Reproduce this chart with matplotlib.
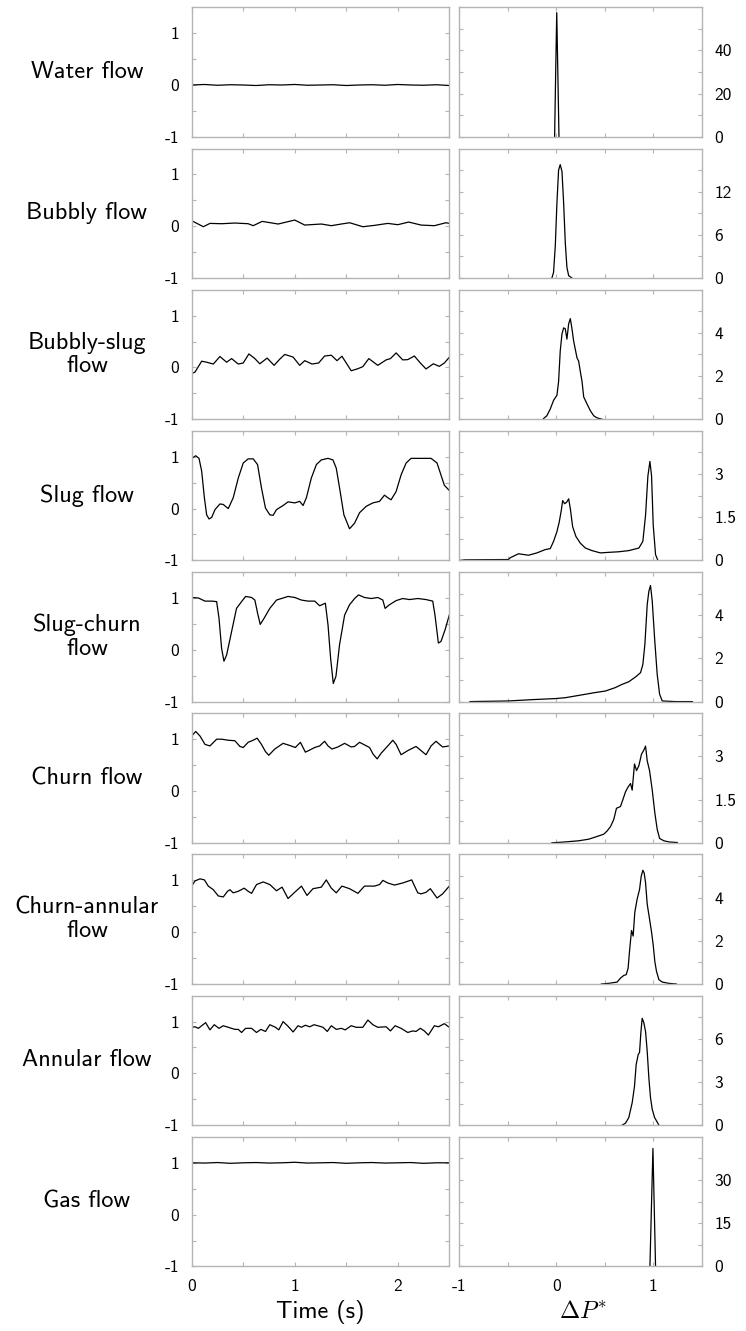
import numpy as np
import matplotlib
matplotlib.use('Agg')
import matplotlib.pyplot as plt

plt.rcParams['font.family'] = ['cmss10', 'DejaVu Sans']
plt.rcParams['mathtext.fontset'] = 'cm'
plt.rcParams['axes.unicode_minus'] = False
plt.rcParams['axes.formatter.use_mathtext'] = True

names = ['Water flow', 'Bubbly flow', 'Bubbly-slug\nflow', 'Slug flow', 'Slug-churn\nflow',
         'Churn flow', 'Churn-annular\nflow', 'Annular flow', 'Gas flow']

# time traces (s, normalised dP)
t_water = [0, 0.125, 0.25, 0.375, 0.5, 0.625, 0.75, 0.875, 1.0, 1.125, 1.25, 1.375, 1.5, 1.625,
           1.75, 1.875, 2.0, 2.125, 2.25, 2.375, 2.5]
y_water = [0.0, 0.01, -0.005, 0.005, 0.0, -0.01, 0.005, 0.0, 0.01, -0.005, 0.0, 0.005, -0.01, 0.0,
           0.005, -0.005, 0.01, 0.0, -0.005, 0.005, -0.01]

t_bubbly = [0, 0.113, 0.177, 0.290, 0.419, 0.548, 0.597, 0.684, 0.839, 1.0, 1.097, 1.258, 1.355,
            1.452, 1.532, 1.661, 1.774, 1.903, 2.0, 2.106, 2.226, 2.355, 2.468, 2.5]
y_bubbly = [0.106, -0.01, 0.054, 0.048, 0.061, 0.048, 0.01, 0.093, 0.042, 0.119, 0.022, 0.042, 0.01,
            0.042, 0.067, -0.01, 0.016, 0.054, 0.029, 0.08, 0.022, 0.01, 0.067, 0.054]

t_bslug = [0, 0.032, 0.097, 0.145, 0.210, 0.274, 0.339, 0.387, 0.452, 0.5, 0.555, 0.613, 0.661, 0.732,
           0.8, 0.855, 0.903, 0.984, 1.048, 1.097, 1.168, 1.232, 1.290, 1.355, 1.410, 1.458, 1.5, 1.548,
           1.613, 1.661, 1.719, 1.806, 1.887, 1.929, 1.984, 2.048, 2.097, 2.161, 2.219, 2.274, 2.345,
           2.403, 2.452, 2.5]
y_bslug = [-0.12, -0.09, 0.12, 0.10, 0.065, 0.21, 0.10, 0.17, 0.065, 0.085, 0.26, 0.17, 0.07, 0.18,
           0.04, 0.16, 0.25, 0.20, 0.04, 0.13, 0.065, 0.085, 0.22, 0.235, 0.13, 0.215, 0.085, -0.065,
           -0.025, 0.015, 0.17, 0.04, 0.145, 0.17, 0.28, 0.145, 0.15, 0.22, 0.085, -0.03, 0.07, 0.02,
           0.085, 0.195]

t_slug = [0, 0.039, 0.071, 0.097, 0.123, 0.145, 0.168, 0.194, 0.226, 0.274, 0.306, 0.355, 0.403, 0.452,
          0.5, 0.548, 0.597, 0.639, 0.677, 0.716, 0.758, 0.790, 0.823, 0.887, 0.935, 1.0, 1.048, 1.081,
          1.113, 1.161, 1.210, 1.258, 1.323, 1.371, 1.403, 1.435, 1.477, 1.532, 1.581, 1.629, 1.694,
          1.758, 1.823, 1.871, 1.903, 1.935, 1.984, 2.032, 2.081, 2.129, 2.194, 2.258, 2.323, 2.381,
          2.419, 2.452, 2.5]
y_slug = [0.97, 1.02, 0.97, 0.72, 0.21, -0.12, -0.20, -0.17, -0.02, 0.09, 0.08, 0.0, 0.21, 0.59, 0.88,
          0.96, 0.96, 0.85, 0.40, 0.01, -0.12, -0.13, -0.02, 0.06, 0.13, 0.11, 0.14, 0.06, 0.21, 0.59,
          0.85, 0.94, 0.97, 0.94, 0.78, 0.40, -0.12, -0.39, -0.28, -0.08, 0.045, 0.11, 0.14, 0.26, 0.21,
          0.17, 0.33, 0.65, 0.88, 0.97, 0.97, 0.97, 0.97, 0.88, 0.65, 0.45, 0.35]

t_schurn = [0, 0.065, 0.129, 0.194, 0.242, 0.265, 0.290, 0.313, 0.339, 0.387, 0.435, 0.484, 0.523,
            0.581, 0.613, 0.639, 0.665, 0.703, 0.758, 0.823, 0.871, 0.935, 1.0, 1.065, 1.129, 1.194,
            1.242, 1.297, 1.323, 1.348, 1.374, 1.400, 1.435, 1.484, 1.532, 1.581, 1.619, 1.677, 1.742,
            1.806, 1.855, 1.877, 1.919, 1.984, 2.048, 2.113, 2.194, 2.274, 2.339, 2.361, 2.394, 2.419,
            2.458, 2.5]
y_schurn = [1.01, 1.0, 0.94, 0.94, 0.93, 0.61, 0.03, -0.22, -0.10, 0.35, 0.80, 0.93, 1.03, 1.01, 0.96,
            0.71, 0.49, 0.61, 0.80, 0.96, 0.99, 1.03, 1.01, 0.96, 0.94, 0.94, 0.85, 0.90, 0.48, -0.16,
            -0.65, -0.51, 0.10, 0.67, 0.87, 0.99, 1.06, 1.01, 0.99, 1.01, 0.96, 0.80, 0.87, 0.95, 0.99,
            0.97, 0.99, 0.97, 0.94, 0.67, 0.13, 0.16, 0.38, 0.67]

t_churn = [0, 0.039, 0.081, 0.129, 0.177, 0.242, 0.290, 0.355, 0.419, 0.468, 0.5, 0.548, 0.597, 0.635,
           0.677, 0.716, 0.748, 0.806, 0.887, 0.935, 1.006, 1.055, 1.103, 1.145, 1.194, 1.242, 1.290,
           1.323, 1.361, 1.419, 1.484, 1.548, 1.581, 1.629, 1.677, 1.726, 1.761, 1.800, 1.839, 1.903,
           1.952, 1.984, 2.032, 2.097, 2.177, 2.226, 2.274, 2.323, 2.371, 2.435, 2.5]
y_churn = [1.06, 1.15, 1.06, 0.90, 0.87, 1.0, 1.0, 0.98, 0.97, 0.86, 0.84, 0.94, 0.98, 1.02, 0.90,
           0.76, 0.69, 0.81, 0.92, 0.89, 0.84, 0.94, 0.75, 0.79, 0.84, 0.87, 0.96, 0.87, 0.81, 0.85,
           0.92, 0.85, 0.86, 0.94, 0.89, 0.84, 0.71, 0.62, 0.73, 0.87, 0.98, 0.90, 0.70, 0.78, 0.86,
           0.78, 0.70, 0.87, 0.96, 0.85, 0.87]

t_cann = [0, 0.032, 0.081, 0.123, 0.161, 0.210, 0.258, 0.306, 0.348, 0.371, 0.403, 0.452, 0.510, 0.548,
          0.581, 0.629, 0.694, 0.758, 0.823, 0.877, 0.935, 0.994, 1.065, 1.119, 1.177, 1.258, 1.306,
          1.355, 1.403, 1.458, 1.532, 1.613, 1.677, 1.774, 1.823, 1.855, 1.903, 1.968, 2.048, 2.135,
          2.194, 2.226, 2.274, 2.316, 2.381, 2.435, 2.5]
y_cann = [0.89, 0.99, 1.03, 1.01, 0.89, 0.82, 0.70, 0.68, 0.79, 0.82, 0.76, 0.79, 0.85, 0.79, 0.75,
          0.92, 0.97, 0.92, 0.80, 0.87, 0.65, 0.76, 0.89, 0.71, 0.84, 0.87, 1.01, 0.85, 0.76, 0.89, 0.84,
          0.75, 0.89, 0.89, 0.92, 1.0, 0.95, 0.91, 0.95, 1.01, 0.76, 0.74, 0.77, 0.84, 0.66, 0.74, 0.89]

t_annular = [0, 0.032, 0.065, 0.097, 0.135, 0.177, 0.219, 0.265, 0.306, 0.355, 0.419, 0.452, 0.484,
             0.523, 0.581, 0.629, 0.671, 0.716, 0.758, 0.813, 0.845, 0.887, 0.935, 0.984, 1.032, 1.065,
             1.103, 1.145, 1.187, 1.242, 1.274, 1.316, 1.355, 1.403, 1.452, 1.490, 1.548, 1.597, 1.661,
             1.710, 1.758, 1.806, 1.887, 1.929, 1.974, 2.032, 2.097, 2.145, 2.177, 2.219, 2.258, 2.297,
             2.355, 2.394, 2.452, 2.5]
y_annular = [0.89, 0.90, 0.87, 0.92, 0.98, 0.84, 0.94, 0.87, 0.92, 0.89, 0.85, 0.85, 0.79, 0.87, 0.87,
             0.79, 0.85, 0.81, 0.94, 0.89, 0.84, 1.0, 0.91, 0.80, 0.92, 0.89, 0.93, 0.90, 0.94, 0.91,
             0.89, 0.81, 0.92, 0.85, 0.87, 0.84, 0.92, 0.89, 0.89, 1.03, 0.94, 0.89, 0.90, 0.82, 0.92,
             0.87, 0.79, 0.82, 0.81, 0.87, 0.82, 0.74, 0.92, 0.90, 0.96, 0.89]

t_gas = [0, 0.125, 0.25, 0.375, 0.5, 0.625, 0.75, 0.875, 1.0, 1.125, 1.25, 1.375, 1.5, 1.625,
         1.75, 1.875, 2.0, 2.125, 2.25, 2.375, 2.5]
y_gas = [1.0, 0.995, 1.005, 0.99, 1.0, 1.005, 0.995, 1.0, 1.01, 0.995, 1.0, 1.005, 0.99, 1.0,
         1.005, 0.995, 1.0, 1.005, 0.99, 1.0, 1.0]

# probability density of dP*
p_water = [-0.017, -0.006, 0.005, 0.016, 0.028]
d_water = [0, 30, 57.5, 30, 0]

p_bubbly = [-0.045, -0.028, -0.010, 0.007, 0.024, 0.041, 0.059, 0.076, 0.093, 0.110, 0.128, 0.162]
d_bubbly = [0, 0.78, 4.47, 10.46, 15.0, 15.76, 14.8, 10.46, 4.93, 1.47, 0.32, 0]

p_bslug = [-0.131, -0.097, -0.062, -0.028, 0.007, 0.024, 0.041, 0.059, 0.076, 0.093, 0.110, 0.128,
           0.145, 0.162, 0.179, 0.214, 0.231, 0.248, 0.266, 0.283, 0.317, 0.352, 0.386, 0.421, 0.472]
d_bslug = [0.03, 0.16, 0.47, 0.87, 1.11, 1.74, 3.16, 3.95, 4.23, 4.19, 3.71, 4.42, 4.66, 4.19, 3.63,
           2.84, 2.69, 2.21, 1.74, 1.03, 0.71, 0.39, 0.16, 0.06, 0]

p_slug = [-0.993, -0.941, -0.493, -0.476, -0.390, -0.286, -0.2, -0.114, -0.062, -0.028, 0.007, 0.031,
          0.052, 0.066, 0.086, 0.107, 0.128, 0.145, 0.169, 0.203, 0.248, 0.3, 0.369, 0.455, 0.541, 0.645,
          0.748, 0.852, 0.893, 0.921, 0.945, 0.966, 0.983, 1.0, 1.024, 1.048]
d_slug = [0, 0.02, 0.03, 0.09, 0.23, 0.18, 0.26, 0.375, 0.41, 0.66, 1.0, 1.34, 1.74, 2.08, 1.97, 2.02,
          2.14, 1.80, 1.17, 0.83, 0.60, 0.43, 0.34, 0.26, 0.28, 0.30, 0.34, 0.43, 0.66, 1.57, 2.93, 3.44,
          2.93, 1.23, 0.20, 0]

p_schurn = [-0.890, -0.493, -0.252, -0.010, 0.093, 0.197, 0.3, 0.403, 0.507, 0.610, 0.679, 0.748, 0.817,
            0.869, 0.893, 0.914, 0.938, 0.955, 0.972, 0.990, 1.014, 1.041, 1.066, 1.093, 1.231, 1.403]
d_schurn = [0, 0.03, 0.09, 0.14, 0.18, 0.26, 0.34, 0.42, 0.49, 0.65, 0.80, 0.92, 1.14, 1.34, 1.72, 2.65,
            4.49, 5.11, 5.38, 4.65, 2.95, 1.26, 0.34, 0.03, 0, 0]

p_churn = [-0.045, 0.093, 0.231, 0.334, 0.421, 0.490, 0.524, 0.559, 0.593, 0.621, 0.662, 0.686, 0.714,
           0.741, 0.766, 0.783, 0.807, 0.828, 0.852, 0.879, 0.903, 0.921, 0.938, 0.962, 0.990, 1.017,
           1.041, 1.066, 1.110, 1.162, 1.248]
d_churn = [0, 0.03, 0.07, 0.125, 0.22, 0.30, 0.41, 0.56, 0.81, 1.20, 1.26, 1.49, 1.77, 1.94, 2.06, 1.83,
           2.74, 2.51, 2.68, 3.08, 3.22, 3.36, 2.85, 2.51, 1.83, 1.03, 0.47, 0.15, 0.07, 0.03, 0.01]

p_cann = [0.466, 0.541, 0.628, 0.662, 0.697, 0.721, 0.741, 0.755, 0.776, 0.793, 0.810, 0.834, 0.859,
          0.876, 0.893, 0.907, 0.921, 0.938, 0.962, 0.983, 1.0, 1.017, 1.034, 1.059, 1.093, 1.162, 1.238]
d_cann = [0, 0.03, 0.09, 0.27, 0.40, 0.43, 0.73, 1.49, 2.48, 2.22, 3.32, 3.93, 4.38, 4.99, 5.27, 5.14,
          4.69, 3.70, 3.01, 2.40, 1.80, 1.03, 0.58, 0.20, 0.09, 0.03, 0]

p_annular = [0.679, 0.714, 0.748, 0.783, 0.807, 0.824, 0.845, 0.859, 0.872, 0.886, 0.903, 0.921, 0.938,
             0.955, 0.972, 0.990, 1.014, 1.034, 1.059]
d_annular = [0, 0.14, 0.53, 1.56, 2.71, 4.21, 4.9, 5.06, 6.39, 7.43, 7.13, 6.51, 5.13, 3.29, 1.91, 1.10,
             0.53, 0.30, 0]

p_gas = [0.966, 0.997, 1.024]
d_gas = [0, 41, 0]

pdf_top = [60, 18, 6, 4.5, 6, 4.5, 6, 9, 45]
pdf_step = [20, 6, 2, 1.5, 2, 1.5, 2, 3, 15]

t_all = [t_water, t_bubbly, t_bslug, t_slug, t_schurn, t_churn, t_cann, t_annular, t_gas]
y_all = [y_water, y_bubbly, y_bslug, y_slug, y_schurn, y_churn, y_cann, y_annular, y_gas]
p_all = [p_water, p_bubbly, p_bslug, p_slug, p_schurn, p_churn, p_cann, p_annular, p_gas]
d_all = [d_water, d_bubbly, d_bslug, d_slug, d_schurn, d_churn, d_cann, d_annular, d_gas]

W = 746.0
H = 1331.0
fig = plt.figure(figsize=(7.46, 13.31), dpi=100)

gray = '#b4b4b4'


def style(ax):
    for s in ax.spines.values():
        s.set_color(gray)
        s.set_linewidth(1.0)
    ax.tick_params(which='both', direction='in', length=3.2, width=0.8, color=gray,
                   top=True, right=True, labelsize=12.5, pad=9)


def fmt(v):
    return '%g' % v


for i in range(9):
    top = 7.3 + 141.2 * i
    hh = 129.5
    b = 1 - (top + hh) / H

    ax = fig.add_axes([191.7 / W, b, 257.6 / W, hh / H])
    ax.plot(t_all[i], y_all[i], color='black', lw=0.9)
    ax.set_xlim(0, 2.5)
    ax.set_ylim(-1, 1.5)
    ax.set_yticks([-1, -0.5, 0, 0.5, 1])
    ax.set_yticklabels(['-1', '', '0', '', '1'])
    ax.set_xticks([0, 0.5, 1, 1.5, 2])
    style(ax)
    if i == 8:
        ax.set_xticklabels(['0', '', '1', '', '2'])
    else:
        ax.set_xticklabels([])

    ax2 = fig.add_axes([459.3 / W, b, 242.4 / W, hh / H])
    ax2.plot(p_all[i], d_all[i], color='black', lw=0.9)
    ax2.set_xlim(-1, 1.5)
    ax2.set_ylim(0, pdf_top[i])
    s = pdf_step[i]
    ax2.set_yticks([0, s / 2, s, 1.5 * s, 2 * s, 2.5 * s])
    ax2.set_yticklabels(['0', '', fmt(s), '', fmt(2 * s), ''])
    ax2.set_xticks([-1, -0.5, 0, 0.5, 1])
    style(ax2)
    ax2.tick_params(labelleft=False, labelright=True)
    if i == 8:
        ax2.set_xticklabels(['-1', '', '0', '', '1'])
    else:
        ax2.set_xticklabels([])

    fig.text(87 / W, 1 - (top + hh / 2) / H, names[i], ha='center', va='center',
             fontsize=17.5, multialignment='center', linespacing=1.1)

fig.text(320.5 / W, 1 - 1312 / H, 'Time (s)', ha='center', va='center', fontsize=17.5)
fig.text(583 / W, 1 - 1312 / H, r'$\Delta P^{*}$', ha='center', va='center', fontsize=17.5)

plt.savefig('out.png', dpi=100)
plt.close()
